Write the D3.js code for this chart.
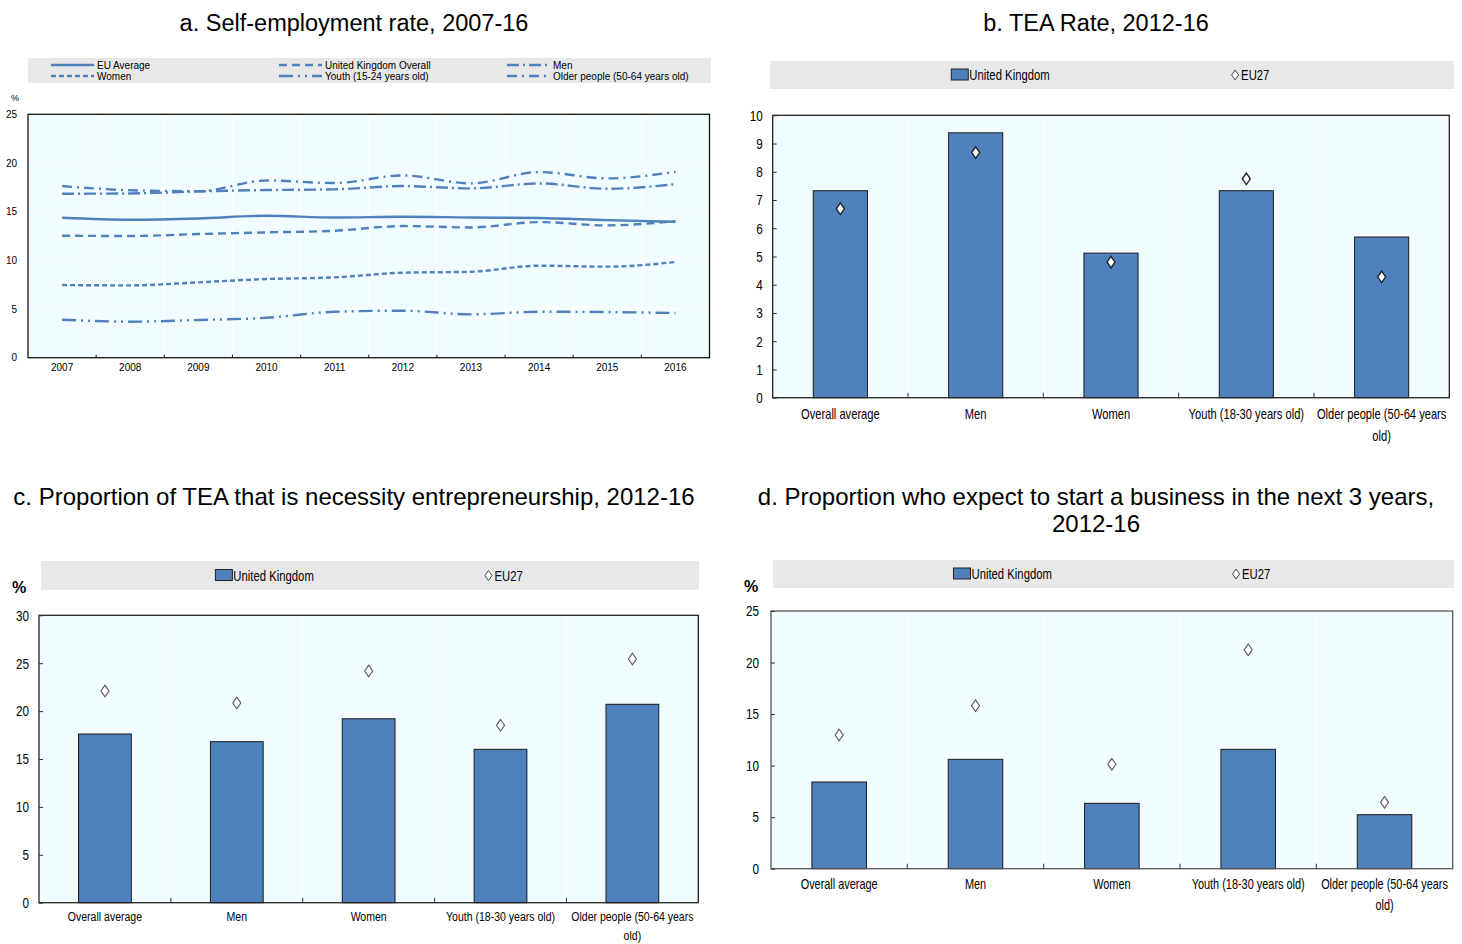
<!DOCTYPE html>
<html><head><meta charset="utf-8">
<script src="https://cdn.jsdelivr.net/npm/d3@7"></script>
<style>
body{margin:0;background:#fff;}
svg{display:block;font-family:"Liberation Sans",Arial,sans-serif;}
</style></head><body>
<svg id="chart" width="1462" height="944"></svg>
<script>
// ---------- DATA ----------
const years = [2007, 2008, 2009, 2010, 2011, 2012, 2013, 2014, 2015, 2016];
const euAverage   = [14.37, 14.17, 14.30, 14.58, 14.40, 14.48, 14.40, 14.35, 14.13, 13.96];
const ukOverall   = [12.53, 12.50, 12.70, 12.87, 13.04, 13.52, 13.38, 13.93, 13.59, 14.03];
const men         = [16.84, 16.87, 17.08, 17.22, 17.29, 17.63, 17.39, 17.90, 17.35, 17.83];
const women       = [7.46, 7.43, 7.74, 8.08, 8.25, 8.73, 8.83, 9.45, 9.35, 9.83];
const youth       = [3.90, 3.70, 3.87, 4.10, 4.72, 4.83, 4.45, 4.72, 4.69, 4.59];
const olderPeople = [17.63, 17.20, 17.10, 18.20, 17.94, 18.72, 17.90, 19.07, 18.42, 19.10];
const lineNames = ["EU Average", "United Kingdom Overall", "Men", "Women", "Youth (15-24 years old)", "Older people (50-64 years old)"];
const yTicksA = [0, 5, 10, 15, 20, 25];

const groups = ["Overall average", "Men", "Women", "Youth (18-30 years old)", "Older people (50-64 years old)"];
const teaUK = [7.33, 9.38, 5.12, 7.33, 5.69];
const teaEU = [6.69, 8.68, 4.80, 7.75, 4.28];
const necessityUK = [17.61, 16.81, 19.20, 16.01, 20.71];
const necessityEU = [22.10, 20.85, 24.19, 18.52, 25.44];
const expectUK = [8.41, 10.61, 6.34, 11.58, 5.24];
const expectEU = [12.97, 15.81, 10.13, 21.24, 6.44];
const seriesNames = ["United Kingdom", "EU27"];

// ---------- STYLE ----------
const BLUE = "#4f81bd";
const PLOTBG = "#f0fcff";
const LEGBG = "#e8e8e8";
const SQ = 0.78; // horizontal condensing for narrow text

const svg = d3.select("#chart");

function narrow(x, y, txt, size, anchor){
  return svg.append("text").attr("transform", `translate(${x},${y}) scale(${SQ},1)`)
    .attr("font-size", size).attr("text-anchor", anchor || "start").text(txt);
}

// ---------- PANEL A ----------
(function(){
  const L = 28, R = 709.5, T = 114.3, B = 357.7;
  svg.append("text").attr("x", 354).attr("y", 31).attr("text-anchor", "middle")
     .attr("font-size", 23.5).text("a. Self-employment rate, 2007-16");
  svg.append("rect").attr("x", 28).attr("y", 58).attr("width", 683).attr("height", 25).attr("fill", LEGBG);
  const dashes = [null, "8,5", "12,4,2,4", "5,3", "14,5,2,5,2,5", "10,5,2,5"];
  const vals = [euAverage, ukOverall, men, women, youth, olderPeople];
  const series = lineNames.map((n, i) => ({name: n, values: vals[i], dash: dashes[i]}));
  const colX = [51, 279, 507];
  series.forEach((s, i) => {
    const cx = colX[i % 3], cy = i < 3 ? 65 : 76;
    svg.append("line").attr("x1", cx).attr("x2", cx + 43).attr("y1", cy).attr("y2", cy)
       .attr("stroke", BLUE).attr("stroke-width", 2.3).attr("stroke-dasharray", s.dash);
    svg.append("text").attr("x", cx + 46).attr("y", cy + 3.5).attr("font-size", 10).text(s.name);
  });
  const x = d3.scaleBand().domain(years).range([L, R]);
  const y = d3.scaleLinear().domain([0, 25]).range([B, T]);
  svg.append("rect").attr("x", L).attr("y", T).attr("width", R - L).attr("height", B - T).attr("fill", PLOTBG);
  const g = svg.append("g");
  g.selectAll(".hg").data(yTicksA.slice(1, -1)).join("line")
    .attr("x1", L).attr("x2", R).attr("y1", d => y(d)).attr("y2", d => y(d)).attr("stroke", "#fff").attr("stroke-width", 1);
  g.selectAll(".vg").data(years.slice(1)).join("line")
    .attr("x1", d => x(d)).attr("x2", d => x(d)).attr("y1", T).attr("y2", B).attr("stroke", "#fff").attr("stroke-width", 1);
  const line = d3.line().x((d, i) => x(years[i]) + x.bandwidth() / 2).y(d => y(d)).curve(d3.curveMonotoneX);
  series.forEach(s => {
    g.append("path").attr("d", line(s.values)).attr("fill", "none").attr("stroke", BLUE)
     .attr("stroke-width", 2.4).attr("stroke-dasharray", s.dash);
  });
  svg.append("rect").attr("x", L).attr("y", T).attr("width", R - L).attr("height", B - T)
     .attr("fill", "none").attr("stroke", "#111").attr("stroke-width", 1.3);
  const ya = svg.append("g").attr("transform", `translate(${L},0)`)
     .call(d3.axisLeft(y).tickValues(yTicksA).tickSize(0).tickPadding(11));
  ya.select(".domain").remove();
  ya.selectAll("text").attr("font-size", 10).attr("font-family", '"Liberation Sans",Arial,sans-serif').attr("fill", "#000");
  const xa = svg.append("g").attr("transform", `translate(0,${B})`)
     .call(d3.axisBottom(x).tickSize(0).tickPadding(6));
  xa.select(".domain").remove();
  xa.selectAll("text").attr("font-size", 10).attr("font-family", '"Liberation Sans",Arial,sans-serif').attr("fill", "#000");
  svg.selectAll(".bt").data(years.slice(1)).join("line")
    .attr("x1", d => x(d)).attr("x2", d => x(d)).attr("y1", B).attr("y2", B - 3).attr("stroke", "#111");
  svg.append("text").attr("x", 15).attr("y", 101).attr("text-anchor", "middle").attr("font-size", 9).attr("fill", "#000").text("%");
})();

// ---------- BAR PANELS ----------
function diamondPath(w, h){ return `M0,${-h}L${w},0L0,${h}L${-w},0Z`; }

function wrapLabel(t, width, lh){
  const words = t.text().split(/\s+/);
  t.text(null);
  let line = [], n = 0, tspan = t.append("tspan").attr("x", 0).attr("y", 0);
  words.forEach(w => {
    line.push(w); tspan.text(line.join(" "));
    if (tspan.node().getComputedTextLength() * SQ > width && line.length > 1){
      line.pop(); tspan.text(line.join(" ")); line = [w]; n++;
      tspan = t.append("tspan").attr("x", 0).attr("y", n * lh).text(w);
    }
  });
}

function barPanel(c){
  c.title.forEach((t, i) => svg.append("text").attr("x", c.titleX).attr("y", c.titleY + i * 27)
     .attr("text-anchor", "middle").attr("font-size", c.tfs).text(t));
  const lb = c.leg;
  svg.append("rect").attr("x", lb[0]).attr("y", lb[1]).attr("width", lb[2] - lb[0]).attr("height", lb[3] - lb[1]).attr("fill", LEGBG);
  const ly = (lb[1] + lb[3]) / 2, lw = lb[2] - lb[0];
  const sx = lb[0] + 0.265 * lw;
  svg.append("rect").attr("x", sx).attr("y", ly - 6).attr("width", 17).attr("height", 11)
     .attr("fill", BLUE).attr("stroke", "#222").attr("stroke-width", 1);
  narrow(sx + 18, ly + 5, seriesNames[0], 14.5);
  const dx = lb[0] + 0.68 * lw;
  svg.append("path").attr("d", diamondPath(3.5, 5)).attr("transform", `translate(${dx},${ly})`)
     .attr("fill", "#fff").attr("stroke", "#444").attr("stroke-width", 1);
  narrow(dx + 6, ly + 5, seriesNames[1], 14.5);
  if (c.pct) svg.append("text").attr("x", c.pct[0]).attr("y", c.pct[1]).attr("text-anchor", "middle")
     .attr("font-size", 16).attr("font-weight", "bold").text("%");

  const x = d3.scaleBand().domain(groups).range([c.L, c.R]);
  const y = d3.scaleLinear().domain([0, c.max]).range([c.B, c.T]);
  svg.append("rect").attr("x", c.L).attr("y", c.T).attr("width", c.R - c.L).attr("height", c.B - c.T).attr("fill", PLOTBG);
  svg.selectAll(null).data(groups.slice(1)).join("line")
    .attr("x1", d => x(d)).attr("x2", d => x(d)).attr("y1", c.T).attr("y2", c.B).attr("stroke", "#fff");
  const bw = x.bandwidth() * 0.4;
  svg.selectAll(null).data(groups).join("rect")
    .attr("x", d => x(d) + x.bandwidth() / 2 - bw / 2).attr("width", bw)
    .attr("y", (d, i) => y(c.uk[i])).attr("height", (d, i) => y(0) - y(c.uk[i]))
    .attr("fill", BLUE).attr("stroke", "#1a1a1a").attr("stroke-width", 1);
  svg.selectAll(null).data(groups).join("path")
    .attr("d", diamondPath(4, 5.8))
    .attr("transform", (d, i) => `translate(${x(d) + x.bandwidth() / 2},${y(c.eu[i])})`)
    .attr("fill", "#fff").attr("stroke", c.dstroke).attr("stroke-width", c.dsw);
  svg.append("rect").attr("x", c.L).attr("y", c.T).attr("width", c.R - c.L).attr("height", c.B - c.T)
     .attr("fill", "none").attr("stroke", c.frame).attr("stroke-width", 1.3);
  const ya = svg.append("g").attr("transform", `translate(${c.L},0)`)
     .call(d3.axisLeft(y).tickValues(c.ticks).tickSizeInner(-4).tickSizeOuter(0).tickPadding(c.pad / SQ));
  ya.select(".domain").remove();
  ya.selectAll("line").attr("stroke", "#333");
  ya.selectAll("text").attr("font-size", 15).attr("font-family", null).attr("fill", "#000")
    .attr("transform", `scale(${SQ},1)`);
  svg.selectAll(null).data(groups.slice(1)).join("line")
    .attr("x1", d => x(d)).attr("x2", d => x(d)).attr("y1", c.B).attr("y2", c.B - 5).attr("stroke", "#333");
  groups.forEach(d => {
    const t = narrow(x(d) + x.bandwidth() / 2, c.B + c.lab, d, c.fs, "middle");
    wrapLabel(t, x.bandwidth() - 1, c.lh);
  });
}

barPanel({title: ["b. TEA Rate, 2012-16"], titleX: 1096, titleY: 31, tfs: 23.5,
  leg: [770, 61, 1454, 89], L: 772.7, R: 1449.3, T: 115.3, B: 397.7, max: 10,
  ticks: d3.range(0, 11, 1), uk: teaUK, eu: teaEU, pad: 10, fs: 14.3, lab: 21, lh: 22,
  frame: "#222", dstroke: "#222", dsw: 1.4});
barPanel({title: ["c. Proportion of TEA that is necessity entrepreneurship, 2012-16"], titleX: 354, titleY: 505, tfs: 24,
  leg: [41, 561, 699, 590], L: 39, R: 698.3, T: 615.3, B: 902.7, max: 30, pct: [19, 593],
  ticks: d3.range(0, 31, 5), uk: necessityUK, eu: necessityEU, pad: 10, fs: 13.5, lab: 18.5, lh: 18.5,
  frame: "#222", dstroke: "#555", dsw: 1.1});
barPanel({title: ["d. Proportion who expect to start a business in the next 3 years,", "2012-16"], titleX: 1096, titleY: 505, tfs: 24,
  leg: [773, 560, 1454, 588], L: 771, R: 1452.7, T: 611, B: 868.7, max: 25, pct: [751, 592],
  ticks: d3.range(0, 26, 5), uk: expectUK, eu: expectEU, pad: 12, fs: 14, lab: 20, lh: 21,
  frame: "#555", dstroke: "#555", dsw: 1.1});
</script>
</body></html>
